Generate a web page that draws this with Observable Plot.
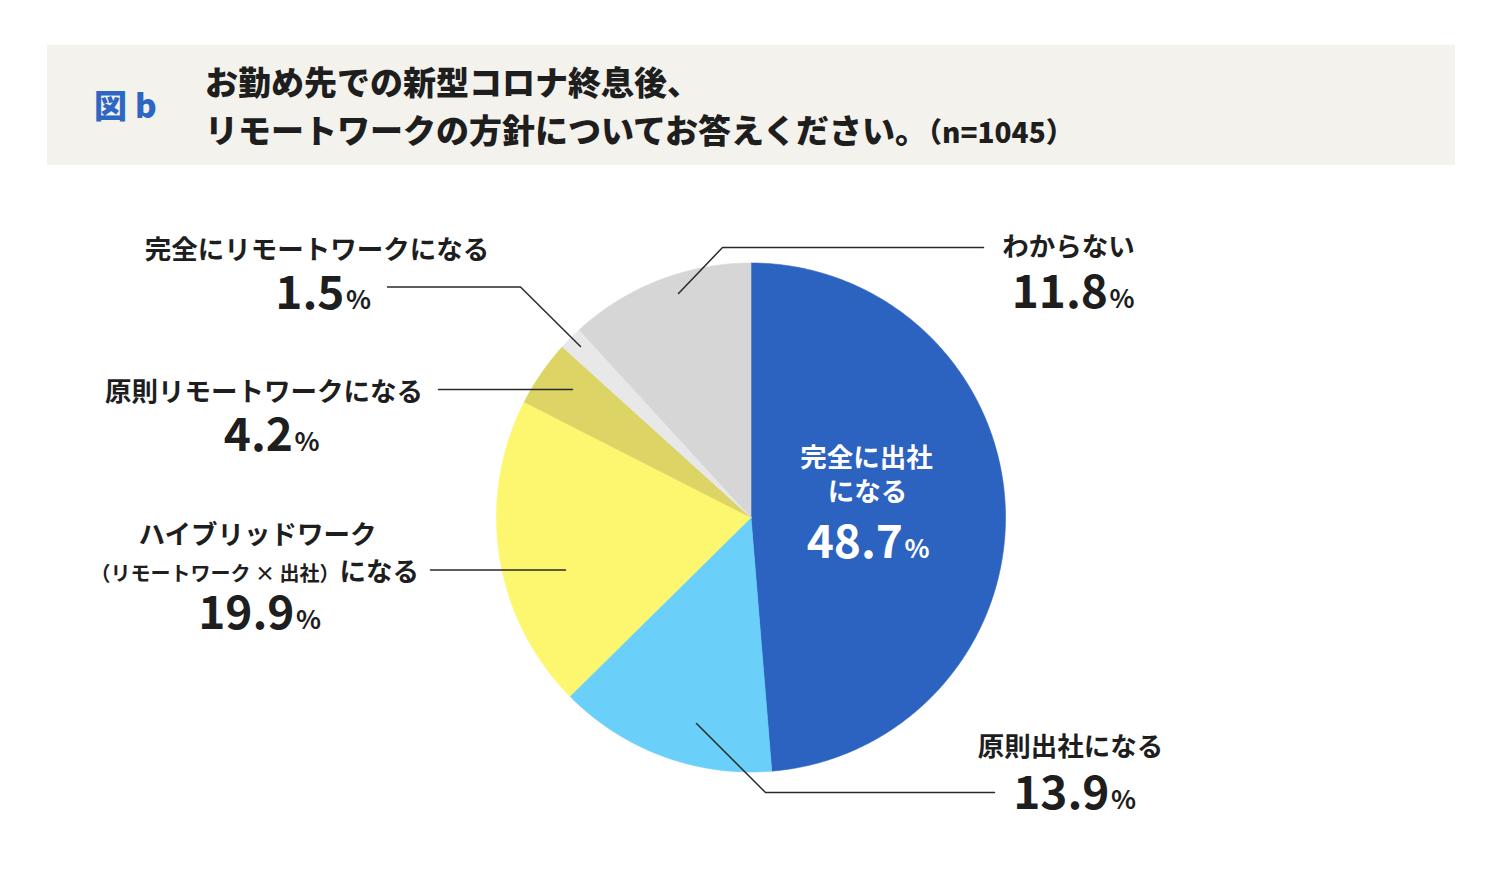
<!DOCTYPE html>
<html><head><meta charset="utf-8">
<script src="https://cdn.jsdelivr.net/npm/d3@7"></script>
<script src="https://cdn.jsdelivr.net/npm/@observablehq/plot@0.6"></script>
<style>
body{margin:0;background:#fff;font-family:"Noto Sans CJK JP","Noto Sans",sans-serif;}
#wrap{position:relative;width:1500px;height:880px;overflow:hidden;background:#fff}
#head{position:absolute;left:47px;top:45px;width:1408px;height:120px;background:#f4f2ec}
#fig{position:absolute;left:47px;top:39px;line-height:40px;font-size:33px;font-weight:900;color:#2e66c4;white-space:nowrap}
#title{position:absolute;left:158px;top:12px;line-height:48px;font-size:33px;font-weight:900;color:#1e1e1e;white-space:nowrap}
#title .n{font-size:28px}
#chart{position:absolute;left:0;top:165px}
</style></head>
<body><div id="wrap">
<div id="head">
  <div id="fig">図<span style="margin-left:8px">b</span></div>
  <div id="title">お勤め先での新型コロナ終息後、<br>リモートワークの方針についてお答えください。<span class="n">（n=1045）</span></div>
</div>
<div id="chart"></div>
</div>
<script>
// ---- data ----
const categories = ["完全に出社になる","原則出社になる","ハイブリッドワーク（リモートワーク × 出社）になる","原則リモートワークになる","完全にリモートワークになる","わからない"];
const values = [48.7, 13.9, 19.9, 4.2, 1.5, 11.8];
const colors = ["#2d63c0", "#6acff9", "#fdf66f", "#dcd565", "#e8e8e8", "#d6d6d6"];

// ---- layout (page coordinates) ----
const W = 1500, H = 715, TOP = 165;
const center = {x: 750.5, y: 517}, R = 254.5;
const labelLayout = [
  {lines: [{t: "完全に出社", x: 866, y: 466}, {t: "になる", x: 867, y: 500}], numX: 902.5, numY: 557, fill: "#ffffff"},
  {lines: [{t: "原則出社になる", x: 1070, y: 755}], numX: 1109, numY: 808, fill: "#1e1e1e"},
  {lines: [{t: "ハイブリッドワーク", x: 257, y: 543}, {t: "（リモートワーク × 出社）", x: 339, y: 580, anchor: "end", size: 20}, {t: "になる", x: 339, y: 580, anchor: "start"}], numX: 294, numY: 628, fill: "#1e1e1e"},
  {lines: [{t: "原則リモートワークになる", x: 263.5, y: 400}], numX: 292.5, numY: 450, fill: "#1e1e1e"},
  {lines: [{t: "完全にリモートワークになる", x: 316.5, y: 258}], numX: 344, numY: 308, fill: "#1e1e1e"},
  {lines: [{t: "わからない", x: 1068, y: 255}], numX: 1107.5, numY: 307, fill: "#1e1e1e"}
];
const leaders = [
  [[678, 293], [722, 247], [983, 247]],
  [[387, 286.5], [520, 286.5], [580, 346]],
  [[438, 389], [572, 389]],
  [[430, 569.5], [565, 569.5]],
  [[696, 723], [765, 792], [994, 792]]
];

// ---- build ----
const arcs = d3.pie().sort(null).value(d => d)(values);
const sliceMarks = arcs.map((a, i) => {
  const pts = [{x: center.x, y: center.y}];
  const n = Math.max(4, Math.ceil((a.endAngle - a.startAngle) / 0.005));
  for (let j = 0; j <= n; j++) {
    const t = a.startAngle + (a.endAngle - a.startAngle) * j / n;
    pts.push({x: center.x + R * Math.sin(t), y: center.y - R * Math.cos(t)});
  }
  pts.push({x: center.x, y: center.y});
  return Plot.line(pts, {x: "x", y: "y", fill: colors[i], stroke: colors[i], strokeWidth: 0.6, curve: "linear"});
});

const leaderPts = leaders.flatMap((L, k) => L.map(([x, y]) => ({x, y, k})));

const segs = labelLayout.flatMap((L, i) => L.lines.map(s => ({...s, anchor: s.anchor || "middle", size: s.size || 26.5, fill: L.fill, cat: categories[i]})));
const nums = labelLayout.map((L, i) => ({x: L.numX, y: L.numY, num: d3.format(".1f")(values[i]), fill: L.fill}));

const font = '"Noto Sans CJK JP","Noto Sans",sans-serif';
const textMarks = ["middle", "start", "end"].map(anchor =>
  Plot.text(segs.filter(s => s.anchor === anchor), {
    x: "x", y: "y", text: "t", fill: "fill", fontSize: "size", textAnchor: anchor,
    lineAnchor: "bottom", fontWeight: 700, fontFamily: font
  })
);

const chart = Plot.plot({
  width: W, height: H, margin: 0,
  x: {domain: [0, W], range: [0, W], axis: null},
  y: {domain: [TOP, TOP + H], range: [0, H], axis: null},
  color: {type: "identity"},
  style: {background: "transparent", overflow: "visible", fontFamily: font},
  marks: [
    ...sliceMarks,
    Plot.line(leaderPts, {x: "x", y: "y", z: "k", stroke: "#2a2a2a", strokeWidth: 1.5}),
    ...textMarks,
    Plot.text(nums, {x: "x", y: "y", text: "num", fill: "fill", fontSize: 46, textAnchor: "end", lineAnchor: "bottom", fontWeight: 700, fontFamily: font}),
    Plot.text(nums, {x: d => d.x + 1.5, y: "y", text: () => "%", fill: "fill", fontSize: 26, textAnchor: "start", lineAnchor: "bottom", fontWeight: 700, fontFamily: font})
  ]
});
document.getElementById("chart").appendChild(chart);
</script>
</body></html>
